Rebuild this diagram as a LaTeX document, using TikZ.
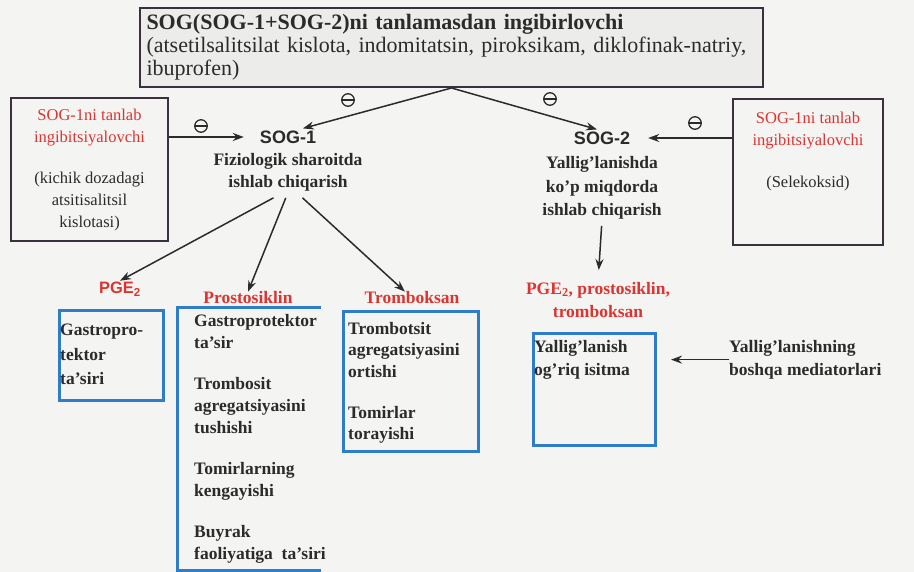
\documentclass[tikz,border=0pt]{standalone}
\usepackage{fontspec}
\setmainfont{Liberation Serif}
\setsansfont{Liberation Sans}
\usetikzlibrary{positioning,arrows.meta}

\definecolor{ink}{HTML}{2B2B2B}
\definecolor{redtxt}{HTML}{DE3431}
\definecolor{bluebox}{HTML}{2F7CC8}
\definecolor{frame}{HTML}{3A3040}
\definecolor{paper}{HTML}{F4F4F2}
\definecolor{topfill}{HTML}{ECECEA}

\tikzset{
  blackbox/.style={draw=frame, line width=2pt},
  bluebx/.style={draw=bluebox, line width=3pt},
  txt/.style={font=\fontsize{17.5}{22}\selectfont\bfseries, text=ink, align=left, inner sep=0pt},
  regtxt/.style={font=\fontsize{16.5}{22}\selectfont, text=ink, align=center, inner sep=0pt},
  redlbl/.style={font=\fontsize{17.5}{23}\selectfont\bfseries, text=redtxt, align=center, inner sep=0pt},
  coxlbl/.style={font=\fontsize{18}{22}\selectfont\sffamily\bfseries, text=ink, inner sep=2pt},
  pil/.style={draw=ink, line width=1.5pt, -{Stealth[length=11pt, width=8pt]}},
  minus/.style={circle, draw=ink, line width=1.3pt, inner sep=0pt, minimum size=12.5pt,
    path picture={\draw[ink, line width=1.3pt] (path picture bounding box.west) -- (path picture bounding box.east);}},
}

\begin{document}
\begin{tikzpicture}[x=1pt, y=-1pt]
  \fill[paper] (0,0) rectangle (914,572);
  \useasboundingbox (0,0) rectangle (914,572);

  % non-selective inhibitors
  \node[blackbox, fill=topfill, anchor=north west, minimum width=623pt, minimum height=79pt,
        inner sep=3pt, text width=610pt, align=left, text=ink, font=\fontsize{22}{23}\selectfont] (nsaid) at (139,7)
    {\textbf{SOG(SOG-1+SOG-2)ni tanlamasdan ingibirlovchi}\\(atsetilsalitsilat kislota, indomitatsin, piroksikam, diklofinak-natriy,\\ibuprofen)};

  % selective inhibitors
  \node[blackbox, anchor=north west, minimum width=157pt, minimum height=143pt] (sel1) at (10,97) {};
  \node[regtxt, below=12pt of sel1.north] (sel1txt)
    {\textcolor{redtxt}{SOG-1ni tanlab}\\\textcolor{redtxt}{ingibitsiyalovchi}\\[19pt](kichik dozadagi\\atsitisalitsil\\kislotasi)};
  \node[blackbox, anchor=north west, minimum width=150pt, minimum height=146pt] (sel2) at (732,98) {};
  \node[regtxt, below=14pt of sel2.north] (sel2txt)
    {\textcolor{redtxt}{SOG-1ni tanlab}\\\textcolor{redtxt}{ingibitsiyalovchi}\\[20pt](Selekoksid)};

  % SOG-1 and SOG-2
  \node[coxlbl] (cox1) at (288,137) {SOG-1};
  \node[txt, align=center, inner ysep=6pt, below=2pt of cox1] (cox1d) {Fiziologik sharoitda\\ishlab chiqarish};
  \node[coxlbl] (cox2) at (602,138) {SOG-2};
  \node[txt, align=center, font=\fontsize{17.5}{23.5}\selectfont\bfseries, below=10pt of cox2] (cox2d)
    {Yallig’lanishda\\ko’p miqdorda\\ishlab chiqarish};

  % inhibition marks
  \node[minus] (m1) at (348,100) {};
  \node[minus] (m2) at (550,99) {};
  \node[minus] (m3) at (201,126) {};
  \node[minus] (m4) at (695,123) {};

  \draw[pil] (nsaid.south) -- (cox1.30);
  \draw[pil] (nsaid.south) -- (cox2.120);
  \draw[pil, shorten >=14pt] (sel1.east |- cox1) -- (cox1.west);
  \draw[pil, shorten >=16pt] (sel2.west |- cox2) -- (cox2.east);

  % SOG-1 products
  \node[font=\fontsize{16.5}{20}\selectfont\sffamily\bfseries, text=redtxt, inner sep=1pt] (pge) at (120,289) {PGE\textsubscript{2}};
  \node[redlbl] (pro) at (248,298) {Prostosiklin};
  \node[redlbl] (trb) at (412,298) {Tromboksan};
  \draw[pil] (cox1d.-120) -- (pge.north);
  \draw[pil] (cox1d.-95) -- (pro.north);
  \draw[pil] (cox1d.-60) -- (trb.138);

  \node[bluebx, anchor=north west, minimum width=104pt, minimum height=90pt] (pgebox) at (58,309) {};
  \node[txt, anchor=north west, font=\fontsize{17.5}{24.5}\selectfont\bfseries] (pgetxt) at (60,324)
    {Gastropro-\\tektor\\ta’siri};

  \draw[bluebx] (321,308) -- (177,308) -- (177,570) -- (321,570);
  \node[txt, anchor=north west] (protxt) at (194,314)
    {Gastroprotektor\\ta’sir\\[19pt]Trombosit\\agregatsiyasini\\tushishi\\[19pt]Tomirlarning\\kengayishi\\[19pt]Buyrak\\faoliyatiga~~ta’siri};

  \node[bluebx, anchor=north west, minimum width=135pt, minimum height=140pt] (trbbox) at (342,310) {};
  \node[txt, anchor=north west, font=\fontsize{17.5}{21.5}\selectfont\bfseries] (trbtxt) at (348,322)
    {Trombotsit\\agregatsiyasini\\ortishi\\[19.5pt]Tomirlar\\torayishi};

  % SOG-2 products
  \node[redlbl, anchor=north] (mix) at (598,282) {PGE\textsubscript{2}, prostosiklin,\\tromboksan};
  \draw[pil, shorten <=6pt, shorten >=12pt] (cox2d.south) -- (mix.north);

  \node[bluebx, anchor=north west, minimum width=122pt, minimum height=112pt] (inflbox) at (532,332) {};
  \node[txt, anchor=north west, font=\fontsize{17.5}{23}\selectfont\bfseries] (infltxt) at (534,340)
    {Yallig’lanish\\og’riq isitma};

  \node[txt, anchor=north west, font=\fontsize{17.5}{23}\selectfont\bfseries] (med) at (729,340)
    {Yallig’lanishning\\boshqa mediatorlari};
  \draw[pil, shorten >=14pt] (med.west) -- (med.west -| inflbox.east);
\end{tikzpicture}
\end{document}
